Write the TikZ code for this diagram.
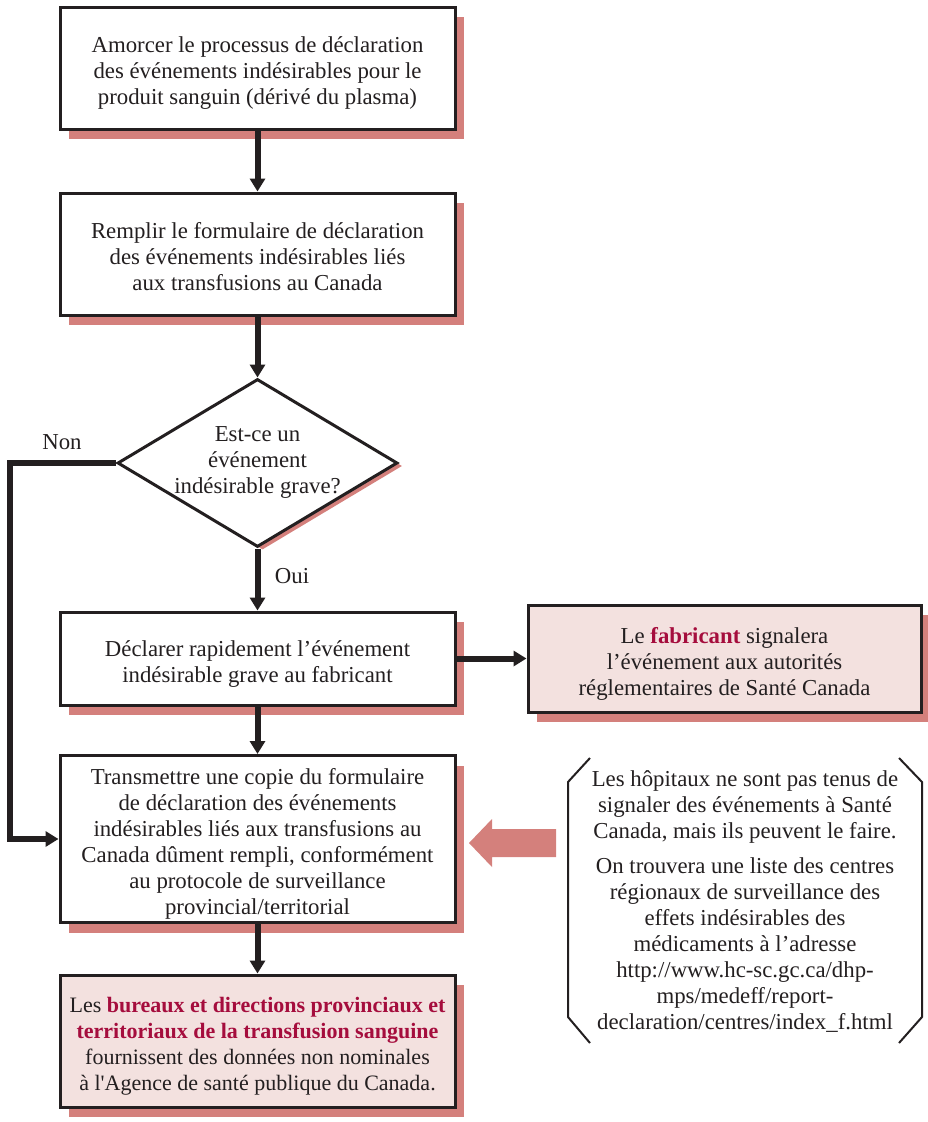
\documentclass[tikz,border=0pt]{standalone}
\usepackage{fontspec}
\setmainfont{Liberation Serif}
\usetikzlibrary{shapes.geometric,shadows,arrows.meta}
\definecolor{ink}{HTML}{231F20}
\definecolor{shad}{HTML}{D4807C}
\definecolor{pinkfill}{HTML}{F3E1DF}
\definecolor{hl}{HTML}{A50D3D}
\newcommand\Tst{\rule{0pt}{29pt}}
\newcommand\Tnt{\rule{0pt}{23pt}}
\newcommand\Tdt{\rule{0pt}{17pt}}
\newcommand\Bst{\rule[-8pt]{0pt}{8pt}}
\begin{document}
\begin{tikzpicture}[x=1pt,y=-1pt,
  font=\fontsize{22.8}{26}\selectfont, text=ink,
  box/.style={draw=ink, line width=3pt, fill=white, align=center, inner sep=0pt,
    minimum width=395pt,
    drop shadow={shadow xshift=9pt, shadow yshift=-10pt, fill=shad, opacity=1}},
  pinkbox/.style={box, fill=pinkfill},
  conn/.style={draw=ink, line width=6pt, -{Triangle[length=13pt,width=15pt]}},
  brk/.style={draw=ink, line width=2pt},
  lbl/.style={inner sep=0pt, align=center},
]
\useasboundingbox (0,0) rectangle (928,1122);

\node[box, minimum height=122pt] (b1) at (257.5,68)
  {\Tst Amorcer le processus de déclaration\\des événements indésirables pour le\\produit sanguin (dérivé du plasma)\Bst};
\node[box, minimum height=122pt] (b2) at (257.5,254)
  {\Tst Remplir le formulaire de déclaration\\des événements indésirables liés\\aux transfusions au Canada\Bst};
\node[diamond, draw=ink, line width=3pt, fill=white, inner sep=0pt, aspect=1.667,
  minimum width=280pt, minimum height=168pt,
  drop shadow={shadow xshift=5pt, shadow yshift=-3pt, fill=shad, opacity=1}] (dec) at (257.5,463) {};
\node[lbl] (dectext) at (dec.center) {\Tdt Est-ce un\\événement\\indésirable grave?\Bst};
\node[box, minimum height=93pt] (b3) at (257.5,658.5)
  {\Tst Déclarer rapidement l’événement\\indésirable grave au fabricant\Bst};
\node[pinkbox, minimum width=393pt, minimum height=107pt] (fab) at (724.5,658.5)
  {\Tst Le \textbf{\color{hl}fabricant} signalera\\l’événement aux autorités\\réglementaires de Santé Canada\Bst};
\node[box, minimum height=162pt] (b4) at (257.5,839)
  {\Tst Transmettre une copie du formulaire\\de déclaration des événements\\indésirables liés aux transfusions au\\Canada dûment rempli, conformément\\au protocole de surveillance\\provincial/territorial\Bst};
\node[pinkbox, minimum height=132pt, font=\fontsize{22}{26}\selectfont] (b5) at (257.5,1041)
  {\Tst Les \textbf{\color{hl}bureaux et directions provinciaux et}\\\textbf{\color{hl}territoriaux de la transfusion sanguine}\\fournissent des données non nominales\\à l\textquotesingle Agence de santé publique du Canada.\Bst};

\node[lbl] (note) at (745,900)
  {\Tnt Les hôpitaux ne sont pas tenus de\\signaler des événements à Santé\\Canada, mais ils peuvent le faire.\\[9pt]
   On trouvera une liste des centres\\régionaux de surveillance des\\effets indésirables des\\médicaments à l’adresse\\http://www.hc-sc.gc.ca/dhp-\\mps/medeff/report-\\declaration/centres/index\_f.html\Bst};

\node[lbl] (non) at (62,442) {Non};
\node[lbl] (oui) at (292,576) {Oui};

\coordinate (nonc) at (10,463);

\draw[conn] (b1.south) -- (b2.north);
\draw[conn] (b2.south) -- (dec.north);
\draw[conn] (dec.south) -- (b3.north);
\draw[conn] (b3.east) -- (fab.west);
\draw[conn] (b3.south) -- (b4.north);
\draw[conn] (b4.south) -- (b5.north);
\draw[conn, line cap=butt] (dec.west) -- (nonc) |- (b4.west);

\fill[shad] (556,829) -- (492,829) -- (492,819) -- (469,843) -- (492,867) -- (492,857) -- (556,857) -- cycle;

\draw[brk] (590,758) -- (568,782) -- (568,1017) -- (590,1043);
\draw[brk] (899,758) -- (922,782) -- (922,1017) -- (899,1043);
\end{tikzpicture}
\end{document}
